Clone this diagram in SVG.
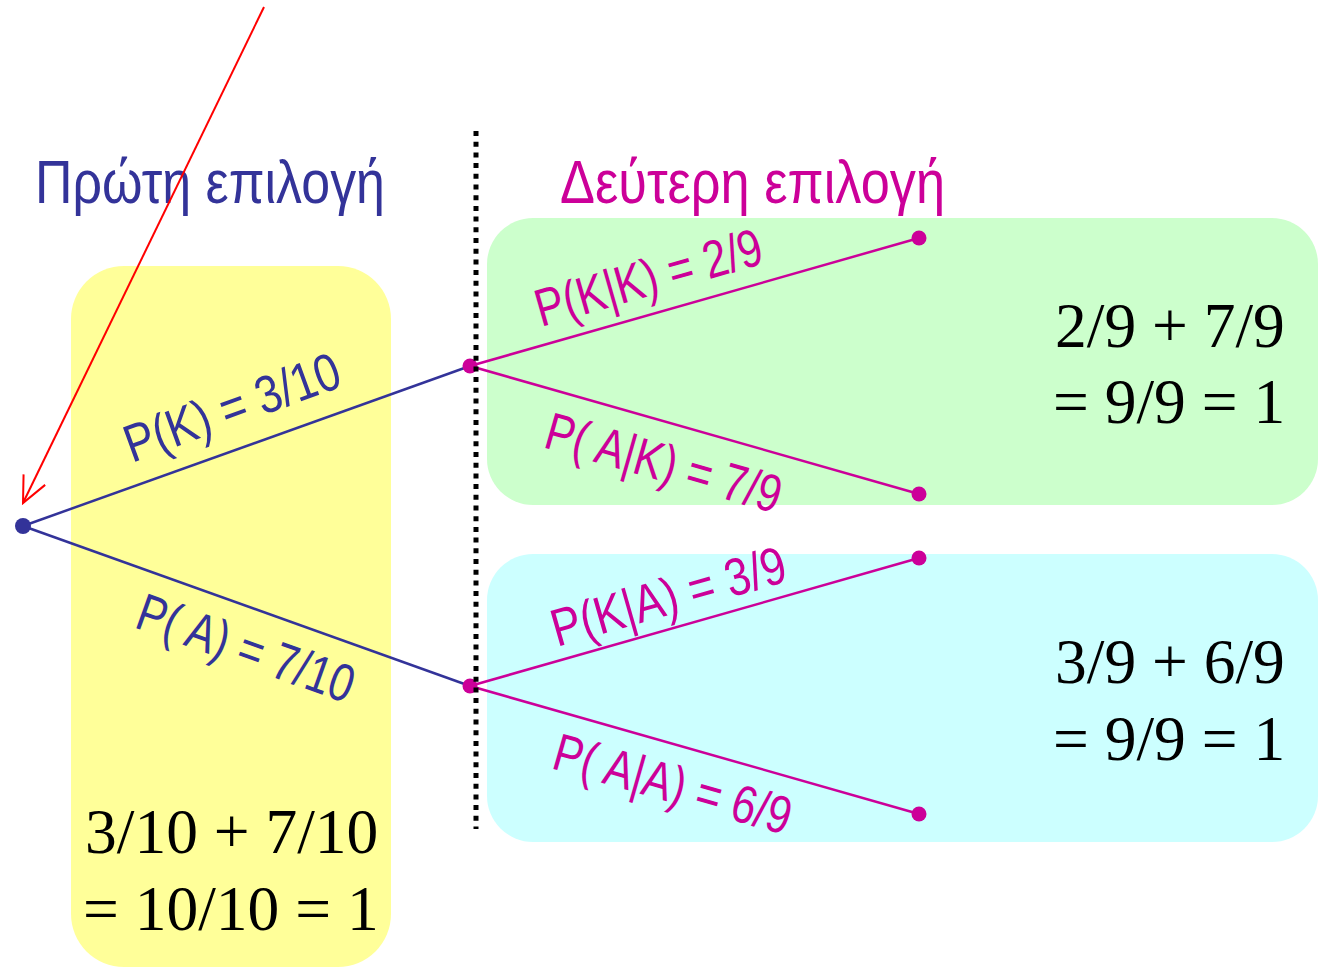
<svg xmlns="http://www.w3.org/2000/svg" width="1318" height="967" viewBox="0 0 1318 967">
<style>
.title{font-family:"Liberation Sans",Arial,sans-serif;font-size:62px}
.lbl{font-family:"Liberation Sans",Arial,sans-serif;font-size:53px}
.sum{font-family:"Liberation Serif","Times New Roman",serif;font-size:63.5px;fill:#000}
.blue{fill:#333399}
.mag{fill:#CC0099}
.bl{stroke:#333399;stroke-width:2.5;fill:none}
.ml{stroke:#CC0099;stroke-width:2.5;fill:none}
</style>
<defs>
<marker id="openArrow" viewBox="0 0 30 30" refX="28" refY="15" markerWidth="30" markerHeight="30" markerUnits="userSpaceOnUse" orient="auto">
<path d="M2,3 L28,15 L2,27" fill="none" stroke="#FF0000" stroke-width="2"/>
</marker>
</defs>
<rect width="1318" height="967" fill="#FFFFFF"/>
<g id="box-first"><rect x="71" y="266" width="320" height="701" rx="53" fill="#FFFF99"/></g>
<g id="box-green"><rect x="487" y="218" width="831" height="287" rx="46" fill="#CCFFCC"/></g>
<g id="box-cyan"><rect x="487" y="554" width="831" height="288" rx="46" fill="#CCFFFF"/></g>

<g id="title-first"><text class="title blue" x="35" y="203" textLength="350" lengthAdjust="spacingAndGlyphs">Πρώτη επιλογή</text></g>
<g id="title-second"><text class="title mag" x="560" y="203" textLength="385" lengthAdjust="spacingAndGlyphs">Δεύτερη επιλογή</text></g>

<g id="connectors">
<line class="bl" x1="23" y1="526" x2="470" y2="366"/>
<line class="bl" x1="23" y1="526" x2="470" y2="686"/>
<line class="ml" x1="470" y1="366" x2="919" y2="238"/>
<line class="ml" x1="470" y1="366" x2="919" y2="494"/>
<line class="ml" x1="470" y1="686" x2="919" y2="558"/>
<line class="ml" x1="470" y1="686" x2="919" y2="814"/>
</g>

<g id="labels">
<text class="lbl blue" x="132" y="463" transform="rotate(-20 132 463)" textLength="226" lengthAdjust="spacingAndGlyphs">P(K) = 3/10</text>
<text class="lbl blue" x="133" y="627" transform="rotate(19.7 133 627)" textLength="227" lengthAdjust="spacingAndGlyphs">P( A) = 7/10</text>
<text class="lbl mag" x="541" y="327" transform="rotate(-15.9 541 327)" textLength="234" lengthAdjust="spacingAndGlyphs">P(K|K) = 2/9</text>
<text class="lbl mag" x="542" y="447" transform="rotate(15.9 542 447)" textLength="243" lengthAdjust="spacingAndGlyphs">P( A|K) = 7/9</text>
<text class="lbl mag" x="557" y="647" transform="rotate(-15.9 557 647)" textLength="242" lengthAdjust="spacingAndGlyphs">P(K|A) = 3/9</text>
<text class="lbl mag" x="550" y="768" transform="rotate(15.9 550 768)" textLength="245" lengthAdjust="spacingAndGlyphs">P( A|A) = 6/9</text>
</g>

<g id="node-root"><circle cx="23" cy="526" r="8" fill="#333399"/></g>
<g id="node-K"><circle cx="470" cy="366" r="7.5" fill="#CC0099"/></g>
<g id="node-A"><circle cx="470" cy="686" r="7.5" fill="#CC0099"/></g>
<g id="node-KK"><circle cx="919" cy="238" r="7.5" fill="#CC0099"/></g>
<g id="node-AK"><circle cx="919" cy="494" r="7.5" fill="#CC0099"/></g>
<g id="node-KA"><circle cx="919" cy="558" r="7.5" fill="#CC0099"/></g>
<g id="node-AA"><circle cx="919" cy="814" r="7.5" fill="#CC0099"/></g>

<g id="divider"><line x1="476" y1="131" x2="476" y2="829" stroke="#000" stroke-width="5" stroke-dasharray="5 5.7"/></g>

<g id="sum-first">
<text class="sum" x="85" y="853">3/10 + 7/10</text>
<text class="sum" x="83" y="930">= 10/10 = 1</text>
</g>
<g id="sum-K">
<text class="sum" x="1055" y="347">2/9 + 7/9</text>
<text class="sum" x="1053" y="423">= 9/9 = 1</text>
</g>
<g id="sum-A">
<text class="sum" x="1055" y="683">3/9 + 6/9</text>
<text class="sum" x="1053" y="760">= 9/9 = 1</text>
</g>

<g id="pointer"><line x1="264" y1="7" x2="23" y2="503" stroke="#FF0000" stroke-width="2" marker-end="url(#openArrow)"/></g>
</svg>
